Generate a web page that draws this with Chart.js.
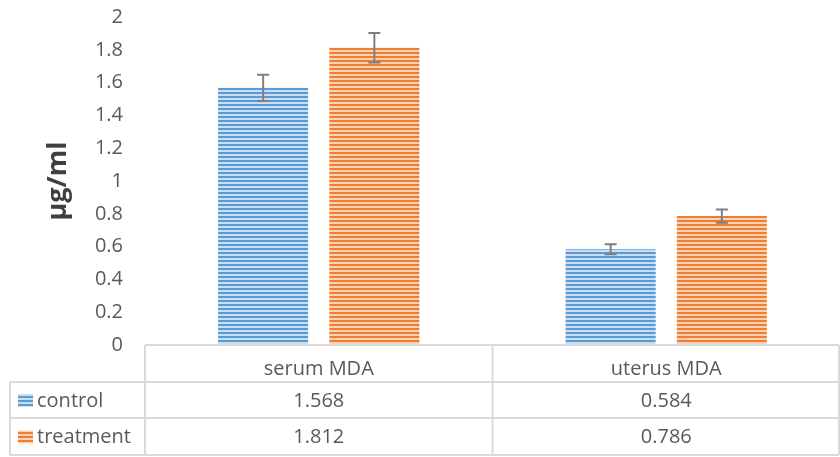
<!DOCTYPE html>
<html>
<head>
<meta charset="utf-8">
<script src="https://cdn.jsdelivr.net/npm/chart.js@4.4.0/dist/chart.umd.min.js"></script>
<style>
  html, body { margin: 0; padding: 0; background: #fff; }
  #wrap { width: 840px; height: 457px; }
</style>
</head>
<body>
<div id="wrap"><canvas id="barChart" width="840" height="457"></canvas></div>
<script>
// data
var categories = ["serum MDA", "uterus MDA"];
var seriesNames = ["control", "treatment"];
var controlValues = [1.568, 0.584];
var treatmentValues = [1.812, 0.786];
var controlErrors = [0.08, 0.03];
var treatmentErrors = [0.09, 0.04];
var tableLabels = [["1.568", "0.584"], ["1.812", "0.786"]];

var FONT = "'Open Sans', 'Liberation Sans', sans-serif";
var TEXT = '#595959';
var LINE = '#d9d9d9';

// striped fill like the excel pattern
function stripes(dark, light) {
	var c = document.createElement('canvas');
	c.width = 8; c.height = 4;
	var g = c.getContext('2d');
	g.fillStyle = light;
	g.fillRect(0, 0, 8, 4);
	g.fillStyle = dark;
	g.fillRect(0, 0, 8, 2);
	return g.createPattern(c, 'repeat');
}
var bluePat = stripes('#5b9bd5', '#c9def2');
var orangePat = stripes('#ed7d31', '#f9d2b6');

var errorBars = {
	id: 'errorBars',
	afterDatasetsDraw: function (chart) {
		var ctx = chart.ctx;
		var y = chart.scales.y;
		ctx.save();
		ctx.strokeStyle = '#7f7f7f';
		ctx.lineWidth = 2;
		chart.data.datasets.forEach(function (ds, di) {
			var meta = chart.getDatasetMeta(di);
			meta.data.forEach(function (bar, i) {
				var v = ds.data[i], e = ds.errors[i];
				var top = y.getPixelForValue(v + e);
				var bot = y.getPixelForValue(v - e);
				ctx.beginPath();
				ctx.moveTo(bar.x, top); ctx.lineTo(bar.x, bot);
				ctx.moveTo(bar.x - 6, top); ctx.lineTo(bar.x + 6, top);
				ctx.moveTo(bar.x - 6, bot); ctx.lineTo(bar.x + 6, bot);
				ctx.stroke();
			});
		});
		ctx.restore();
	}
};

// data table under the plot
var dataTable = {
	id: 'dataTable',
	afterDraw: function (chart) {
		var ctx = chart.ctx;
		var a = chart.chartArea;
		var left = 10, x0 = a.left, right = chart.width - 1;
		var mid = (a.left + a.right) / 2;
		var rows = [a.bottom, 382, 418, 455];
		ctx.save();
		ctx.strokeStyle = LINE;
		ctx.lineWidth = 2;
		ctx.beginPath();
		ctx.moveTo(x0, rows[0]); ctx.lineTo(right, rows[0]);
		for (var r = 1; r < rows.length; r++) {
			ctx.moveTo(left, rows[r]); ctx.lineTo(right, rows[r]);
		}
		ctx.moveTo(left, rows[1]); ctx.lineTo(left, rows[3]);
		[x0, mid, right].forEach(function (x) {
			ctx.moveTo(x, rows[0]); ctx.lineTo(x, rows[3]);
		});
		ctx.stroke();

		ctx.font = '20px ' + FONT;
		ctx.fillStyle = TEXT;
		ctx.textBaseline = 'middle';
		var pats = [bluePat, orangePat];
		for (var s = 0; s < seriesNames.length; s++) {
			var cy = (rows[s + 1] + rows[s + 2]) / 2 + 1;
			ctx.fillStyle = pats[s];
			ctx.fillRect(18, cy - 7, 15, 13);
			ctx.fillStyle = TEXT;
			ctx.textAlign = 'left';
			ctx.fillText(seriesNames[s], 37, cy);
			ctx.textAlign = 'center';
			for (var c = 0; c < categories.length; c++) {
				var cx = chart.scales.x.getPixelForValue(c);
				ctx.fillText(tableLabels[s][c], cx, cy);
			}
		}
		ctx.restore();
	}
};

var ctx = document.getElementById('barChart').getContext('2d');
var myChart = new Chart(ctx, {
	type: 'bar',
	data: {
		labels: categories,
		datasets: [{
			label: seriesNames[0],
			data: controlValues,
			errors: controlErrors,
			backgroundColor: bluePat
		}, {
			label: seriesNames[1],
			data: treatmentValues,
			errors: treatmentErrors,
			backgroundColor: orangePat
		}]
	},
	options: {
		responsive: false,
		animation: false,
		layout: { padding: { top: 17, right: 0, left: 0, bottom: 0 } },
		categoryPercentage: 0.64,
		barPercentage: 0.81,
		plugins: {
			legend: { display: false },
			tooltip: { enabled: false }
		},
		scales: {
			x: {
				grid: { display: false },
				border: { display: false },
				ticks: { color: TEXT, font: { size: 20, family: FONT }, padding: 4, maxRotation: 0 },
				afterFit: function (scale) { scale.height = 112; scale.paddingLeft = 0; scale.paddingRight = 0; }
			},
			y: {
				min: 0,
				max: 2,
				grid: { display: false },
				border: { display: false },
				ticks: {
					stepSize: 0.2,
					color: TEXT,
					font: { size: 20, family: FONT },
					padding: 14,
					callback: function (v) { return String(Math.round(v * 10) / 10); }
				},
				title: {
					display: true,
					text: 'µg/ml',
					color: '#404040',
					padding: { top: 42, bottom: 0 },
					font: { size: 27, weight: 'bold', family: FONT }
				},
				afterFit: function (scale) { scale.width = 145; scale.paddingTop = 0; scale.paddingBottom = 0; }
			}
		}
	},
	plugins: [errorBars, dataTable]
});
</script>
</body>
</html>
